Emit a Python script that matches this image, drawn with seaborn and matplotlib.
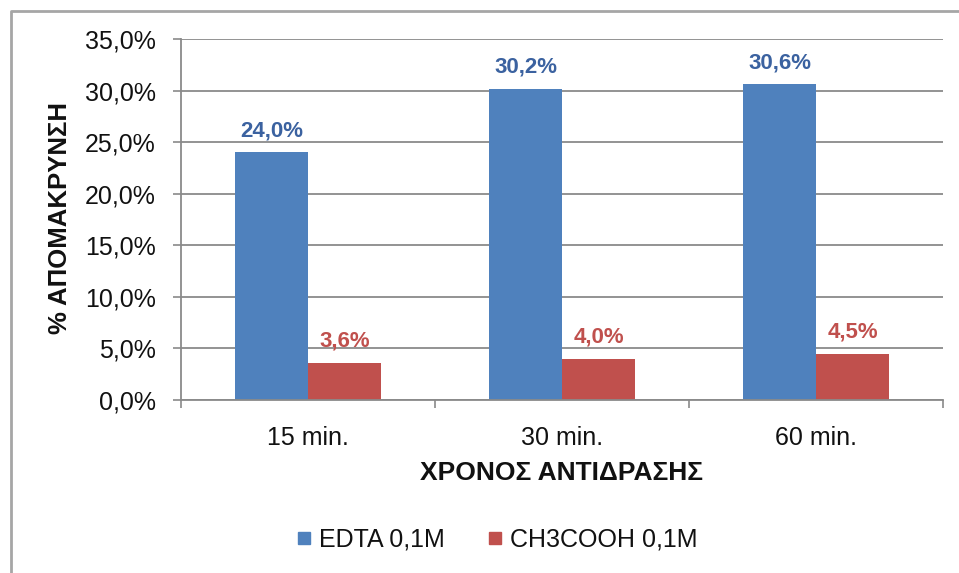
import matplotlib
matplotlib.use("Agg")
import matplotlib.pyplot as plt
from matplotlib.lines import Line2D
import seaborn as sns
import pandas as pd

# Removal percentage per reaction time for the two extraction solutions
categories = ["15 min.", "30 min.", "60 min."]
series_names = ["EDTA 0,1M", "CH3COOH 0,1M"]
edta_values = [24.0, 30.2, 30.6]
acetic_values = [3.6, 4.0, 4.5]
y_ticks = [0, 5, 10, 15, 20, 25, 30, 35]

bar_colors = ["#4F81BD", "#C0504D"]
label_colors = ["#3B62A0", "#C0504D"]
grid_color = "#8A8A8A"
text_color = "#111111"

df = pd.DataFrame({
    "time": categories * 2,
    "series": [series_names[0]] * 3 + [series_names[1]] * 3,
    "value": edta_values + acetic_values,
})

sns.set_theme(style="white")
plt.rcParams["font.family"] = ["Liberation Sans", "DejaVu Sans"]

fig = plt.figure(figsize=(9.59, 5.73), dpi=100)
ax = fig.add_axes([181 / 959, 173 / 573, 762 / 959, 361 / 573])

sns.barplot(data=df, x="time", y="value", hue="series", order=categories,
            hue_order=series_names, palette=bar_colors, width=0.575,
            saturation=1, gap=0, edgecolor="none", legend=False, ax=ax)

ax.set_ylim(0, 35)
ax.set_xlim(-0.5, 2.5)
ax.set_yticks(y_ticks)
ax.set_yticklabels([f"{v:.1f}%".replace(".", ",") for v in y_ticks],
                   fontsize=18, color=text_color)
ax.tick_params(axis="y", direction="out", length=6, width=1.2,
               color=grid_color, pad=12, left=True)
ax.tick_params(axis="x", which="major", length=0, pad=19,
               labelsize=18, labelcolor=text_color)
ax.set_xticks([-0.5, 0.5, 1.5, 2.5], minor=True)
ax.tick_params(axis="x", which="minor", direction="out", length=6,
               width=1.2, color=grid_color, bottom=True)

ax.yaxis.grid(True, color=grid_color, linewidth=1.3)
ax.xaxis.grid(False)
ax.set_axisbelow(True)
for side in ["top", "right"]:
    ax.spines[side].set_visible(False)
for side in ["left", "bottom"]:
    ax.spines[side].set_color(grid_color)
    ax.spines[side].set_linewidth(1.3)

ax.set_xlabel("ΧΡΟΝΟΣ ΑΝΤΙΔΡΑΣΗΣ", fontsize=19, fontweight="bold",
              color=text_color, va="center")
ax.xaxis.set_label_coords(0.5, -0.202)
ax.set_ylabel("% ΑΠΟΜΑΚΡΥΝΣΗ", fontsize=18.5, fontweight="bold",
              color=text_color, va="center")
ax.yaxis.set_label_coords(-0.159, 0.505)

# Value labels above each bar
for container, color in zip(ax.containers, label_colors):
    labels = [f"{b.get_height():.1f}%".replace(".", ",") for b in container]
    ax.bar_label(container, labels=labels, padding=8, fontsize=16,
                 fontweight="bold", color=color)

# Legend along the bottom
handles = [Line2D([0], [0], marker="s", linestyle="none", markersize=9,
                  markerfacecolor=c, markeredgecolor=c) for c in bar_colors]
fig.legend(handles, series_names, loc="center", bbox_to_anchor=(496 / 959, 1 - 540 / 573),
           ncol=2, frameon=False, fontsize=18, handletextpad=0.2,
           columnspacing=1.6, labelcolor=text_color, handlelength=0.8)

# Chart-area border
border_y = 1 - 11 / 573
border_x = 11 / 959
fig.add_artist(Line2D([border_x, border_x, 1.0], [0.0, border_y, border_y],
                      transform=fig.transFigure, color="#A6A6A6", linewidth=2))

fig.savefig("out.png", dpi=100, facecolor="white")
